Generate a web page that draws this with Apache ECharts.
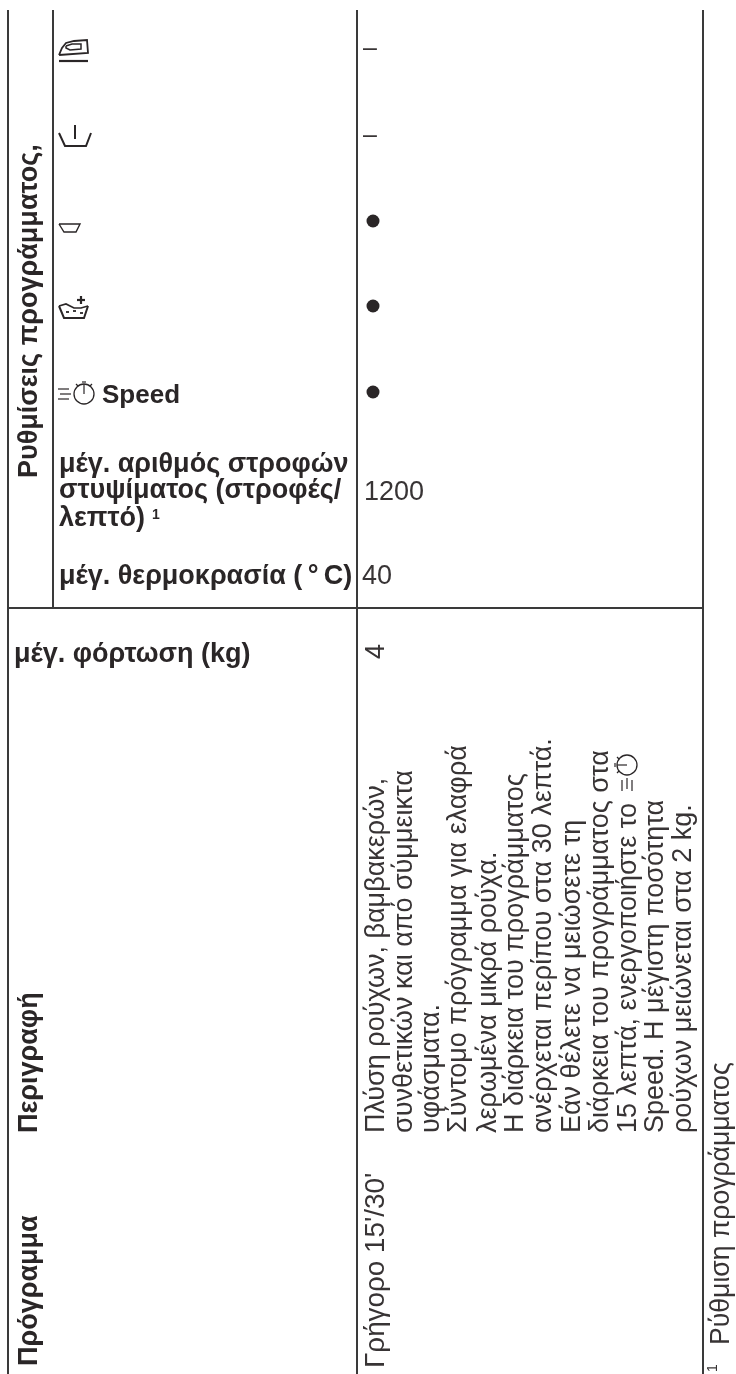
<!DOCTYPE html>
<html><head><meta charset="utf-8">
<style>html,body{margin:0;padding:0;background:#fff}#c{width:736px;height:1374px}</style>
<script src="https://cdn.jsdelivr.net/npm/echarts@6/dist/echarts.min.js"></script>
</head><body><div id="c"></div>
<script>
const headers = ['Πρόγραμμα', 'Περιγραφή'];
const groupTitle = 'Ρυθμίσεις προγράμματος,';
const spinLabel = ['μέγ. αριθμός στροφών', 'στυψίματος (στροφές/', 'λεπτό)'];
const tempLabel = 'μέγ. θερμοκρασία (\u2009°\u2009C)';
const loadLabel = 'μέγ. φόρτωση (kg)';
const speedLabel = 'Speed';
const programme = "Γρήγορο 15'/30'";
const dashes = ['–', '–'];
const spinValue = '1200', tempValue = '40', loadValue = '4';
const description = [
  'Πλύση ρούχων, βαμβακερών,',
  'συνθετικών και από σύμμεικτα',
  'υφάσματα.',
  'Σύντομο πρόγραμμα για ελαφρά',
  'λερωμένα μικρά ρούχα.',
  'Η διάρκεια του προγράμματος',
  'ανέρχεται περίπου στα 30 λεπτά.',
  'Εάν θέλετε να μειώσετε τη',
  'διάρκεια του προγράμματος στα',
  '15 λεπτά, ενεργοποιήστε το',
  'Speed. Η μέγιστη ποσότητα',
  'ρούχων μειώνεται στα 2 kg.'
];
const footnote = 'Ρύθμιση προγράμματος';

const INK = '#2a2627', BODY = '#383435', FF = '"Liberation Sans", Arial, sans-serif';
const R = Math.PI / 2;
const els = [];
const line = (x1, y1, x2, y2, w = 2, c = '#3a3a3a') => els.push({ type: 'line', shape: { x1, y1, x2, y2 }, style: { stroke: c, lineWidth: w } });
const text = (t, x, y, o = {}) => els.push({
  type: 'text', x, y, rotation: o.rot ? R : 0, scaleX: o.sx || 1,
  style: { text: t, fill: o.bold ? INK : BODY, font: `${o.bold ? 'bold ' : ''}${o.size || 27}px ${FF}`, textAlign: 'left', textVerticalAlign: 'middle' }
});
const pl = (points, w = 1.4, extra = {}) => els.push(Object.assign({ type: 'polyline', shape: { points }, style: { stroke: INK, fill: 'none', lineWidth: w } }, extra));
const circ = (cx, cy, r, o = {}) => els.push(Object.assign({ type: 'circle', shape: { cx, cy, r }, style: o.fill ? { fill: INK } : { stroke: INK, fill: 'none', lineWidth: 1.3 } }, o.extra || {}));

[8, 357, 703].forEach(x => line(x, 10, x, 1374));
line(53, 10, 53, 608);
line(8, 608, 703, 608);

text(groupTitle, 30, 478, { rot: 1, bold: 1 });
text(headers[0], 30, 1366, { rot: 1, bold: 1 });
text(headers[1], 30, 1133, { rot: 1, bold: 1 });

text(speedLabel, 102, 396, { bold: 1, size: 26 });
[465, 491, 519].forEach((y, i) => text(spinLabel[i], 59, y, { bold: 1 }));
text('1', 152, 515, { bold: 1, size: 14 });
text(tempLabel, 59, 577, { bold: 1 });
text(loadLabel, 14, 655, { bold: 1 });

dashes.forEach((t, i) => text(t, 363, [49, 136][i], { size: 25 }));
[221, 306, 392].forEach(y => circ(373, y, 6.5, { fill: 1 }));
text(spinValue, 364, 493);
text(tempValue, 362, 577);
text(loadValue, 377, 659, { rot: 1 });

text(programme, 377, 1368, { rot: 1, size: 27, sx: 1.03 });
const xs = [377, 405, 432, 459, 489, 516, 544, 573, 601, 629, 656, 684];
description.forEach((t, i) => text(t, xs[i], 1133, { rot: 1 }));
text(footnote, 722, 1345, { rot: 1, sx: 0.985 });
text('1', 713, 1372, { rot: 1, size: 14 });

// iron
pl([[59, 55], [62, 48], [66, 43], [74, 41], [87, 40], [88, 53], [59, 55]], 1.8);
pl([[66, 46], [72, 44], [81, 44], [81, 49], [70, 50], [66, 48], [66, 46]], 1.5);
pl([[59, 61], [88, 61]], 2.2);
// gentle tub
pl([[59, 133], [65, 146], [86, 146], [91, 133]], 2);
pl([[75, 125], [75, 139]], 2);
// small tub
pl([[59, 224], [64, 232], [76, 232], [80, 224], [59, 224]], 1.4);
// tub with plus
pl([[59, 306], [64, 318], [84, 318], [88, 306]], 2);
pl([[59, 306], [66, 304], [74, 308], [81, 308], [88, 306]], 1.7);
pl([[77, 300], [85, 300]], 2.2);
pl([[81, 296], [81, 304]], 2.2);
pl([[66, 312], [69, 312]], 1.8);
pl([[73, 311], [76, 311]], 1.8);
pl([[80, 313], [83, 313]], 1.8);
// stopwatch, drawn at the origin, placed twice
function watch(x, y, rot) {
  const e = { x, y, rotation: rot };
  [[[-26, -5], [-15, -5]], [[-24, 0], [-13, 0]], [[-26, 5], [-15, 5]], [[0, -10], [0, 0]], [[-2, -12], [2, -12]], [[-8, -10], [-6, -8]], [[8, -10], [6, -8]]]
    .forEach(p => pl(p, 1.2, e));
  circ(0, 0, 10, { extra: e });
}
watch(84, 394, 0);
watch(627, 765, R);

const chart = echarts.init(document.getElementById('c'), null, { renderer: 'canvas' });
chart.setOption({ backgroundColor: '#fff', animation: false, graphic: { elements: els } });
</script></body></html>
